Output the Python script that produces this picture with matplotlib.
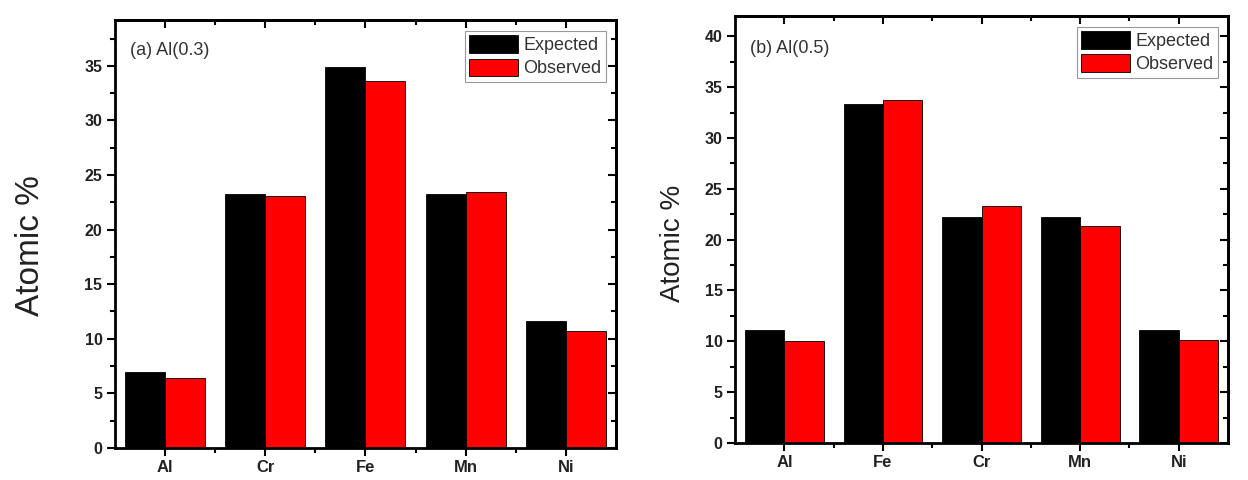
import matplotlib
matplotlib.use("Agg")
import matplotlib.pyplot as plt
import numpy as np
from matplotlib.ticker import MultipleLocator, FixedLocator

plt.rcParams['font.family'] = ['Liberation Sans', 'DejaVu Sans']

# composition data, at.% per element
elements_a = ['Al', 'Cr', 'Fe', 'Mn', 'Ni']
expected_a = [7.0, 23.3, 34.9, 23.3, 11.6]
observed_a = [6.4, 23.1, 33.6, 23.4, 10.7]

elements_b = ['Al', 'Fe', 'Cr', 'Mn', 'Ni']
expected_b = [11.1, 33.3, 22.2, 22.2, 11.1]
observed_b = [10.0, 33.7, 23.3, 21.3, 10.1]

panel_titles = ['(a) Al(0.3)', '(b) Al(0.5)']


def draw_panel(ax, elements, expected, observed, title, ymax, label_size, label_x, label_y, title_y):
    x = np.arange(len(elements))
    w = 0.4
    ax.bar(x - w / 2, expected, w, color='black', edgecolor='black', linewidth=0.6, label='Expected')
    ax.bar(x + w / 2, observed, w, color='#ff0000', edgecolor='black', linewidth=0.6, label='Observed')
    ax.set_xlim(-0.5, len(elements) - 0.5)
    ax.set_ylim(0, ymax)
    ax.set_xticks(x)
    ax.set_xticklabels(elements, fontweight='bold', fontsize=12, color='#222222')
    ax.xaxis.set_minor_locator(FixedLocator(x[:-1] + 0.5))
    ax.yaxis.set_major_locator(MultipleLocator(5))
    ax.yaxis.set_minor_locator(MultipleLocator(2.5))
    for lbl in ax.get_yticklabels():
        lbl.set_fontweight('bold')
        lbl.set_fontsize(11.5)
        lbl.set_color('#222222')
    ax.tick_params(which='both', direction='out', width=1.5, top=False, right=False)
    ax.tick_params(which='major', length=6, pad=3)
    ax.tick_params(which='minor', length=3.5)
    # mirrored ticks on the top and right spines point inward
    sec_x = ax.secondary_xaxis('top')
    sec_x.set_xticks(x)
    sec_x.xaxis.set_minor_locator(FixedLocator(x[:-1] + 0.5))
    sec_x.tick_params(which='both', direction='in', width=1.5, labeltop=False)
    sec_x.tick_params(which='major', length=6)
    sec_x.tick_params(which='minor', length=3.5)
    sec_x.spines['top'].set_linewidth(2)
    sec_y = ax.secondary_yaxis('right')
    sec_y.yaxis.set_major_locator(MultipleLocator(5))
    sec_y.yaxis.set_minor_locator(MultipleLocator(2.5))
    sec_y.tick_params(which='both', direction='in', width=1.5, labelright=False)
    sec_y.tick_params(which='major', length=6)
    sec_y.tick_params(which='minor', length=3.5)
    sec_y.spines['right'].set_linewidth(2)
    for s in ax.spines.values():
        s.set_linewidth(2)
    ax.set_ylabel('Atomic %', fontsize=label_size, color='#222222')
    ax.yaxis.set_label_coords(label_x, label_y)
    ax.text(0.03, title_y, title, transform=ax.transAxes, fontsize=13,
            color='#333333', va='center', ha='left')
    leg = ax.legend(loc='upper right', bbox_to_anchor=(0.98, 0.975), fontsize=13,
                    fancybox=False, framealpha=1, edgecolor='#999999',
                    handlelength=2.7, handleheight=1.1, handletextpad=0.3,
                    borderpad=0.25, labelspacing=0.25, borderaxespad=0)
    leg.get_frame().set_linewidth(0.8)
    for t in leg.get_texts():
        t.set_color('#333333')


fig = plt.figure(figsize=(12.48, 4.8), dpi=100)
ax1 = fig.add_axes([0.0921, 0.0667, 0.4014, 0.8917])
ax2 = fig.add_axes([0.589, 0.0771, 0.395, 0.8896])

draw_panel(ax1, elements_a, expected_a, observed_a, panel_titles[0], 39.2, 24, -0.138, 0.474, 0.928)
draw_panel(ax2, elements_b, expected_b, observed_b, panel_titles[1], 42.0, 20, -0.10, 0.468, 0.923)

fig.savefig('out.png', dpi=100)
